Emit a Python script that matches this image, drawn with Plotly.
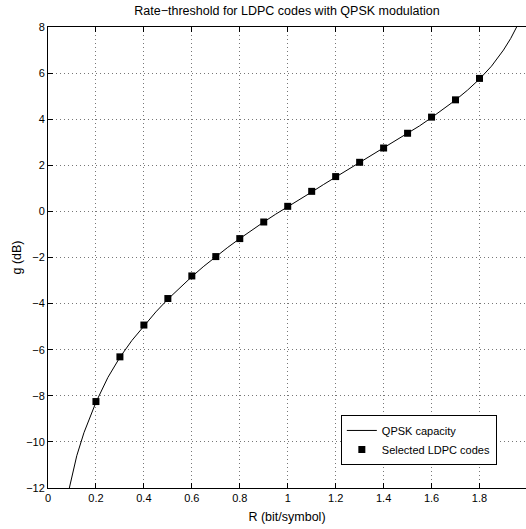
import plotly.graph_objects as go

# QPSK capacity curve
cap_R = [0.089, 0.10, 0.12, 0.15, 0.20, 0.25, 0.30, 0.35, 0.40, 0.45, 0.50, 0.55,
         0.60, 0.65, 0.70, 0.75, 0.80, 0.85, 0.90, 0.95, 1.00, 1.05, 1.10, 1.15,
         1.20, 1.25, 1.30, 1.35, 1.40, 1.45, 1.50, 1.55, 1.60, 1.65, 1.70, 1.75,
         1.80, 1.85, 1.90, 1.93, 1.955]
cap_g = [-12.0, -11.45, -10.6, -9.6, -8.28, -7.2, -6.33, -5.6, -4.96, -4.36, -3.81, -3.3,
         -2.83, -2.38, -1.96, -1.56, -1.18, -0.81, -0.46, -0.12, 0.19, 0.52, 0.84, 1.17,
         1.49, 1.81, 2.12, 2.43, 2.75, 3.06, 3.38, 3.71, 4.07, 4.44, 4.83, 5.26,
         5.74, 6.3, 7.0, 7.5, 8.0]

# Selected LDPC codes thresholds
ldpc_R = [0.2, 0.3, 0.4, 0.5, 0.6, 0.7, 0.8, 0.9, 1.0, 1.1, 1.2, 1.3, 1.4, 1.5, 1.6, 1.7, 1.8]
ldpc_g = [-8.25, -6.31, -4.93, -3.78, -2.80, -1.96, -1.18, -0.46, 0.22, 0.87, 1.51, 2.13,
          2.75, 3.39, 4.09, 4.84, 5.77]

x_ticks = [0, 0.2, 0.4, 0.6, 0.8, 1.0, 1.2, 1.4, 1.6, 1.8]
x_ticktext = ["0", "0.2", "0.4", "0.6", "0.8", "1", "1.2", "1.4", "1.6", "1.8"]
y_ticks = [-12, -10, -8, -6, -4, -2, 0, 2, 4, 6, 8]

FONT = "Liberation Sans, Arial, Helvetica, sans-serif"

fig = go.Figure()
fig.add_trace(go.Scatter(x=cap_R, y=cap_g, mode="lines", name="QPSK capacity",
                         line=dict(color="black", width=1)))
fig.add_trace(go.Scatter(x=ldpc_R, y=ldpc_g, mode="markers", name="Selected LDPC codes",
                         marker=dict(symbol="square", size=7, color="black")))

axis_common = dict(
    showline=True, linecolor="black", linewidth=1,
    ticks="inside", ticklen=5, tickcolor="black", tickwidth=1,
    showgrid=True, gridcolor="#777", griddash="1px,3px", gridwidth=1,
    zeroline=False, tickfont=dict(size=11, color="black", family=FONT),
)

fig.update_layout(
    width=526, height=529,
    margin=dict(l=48, r=0, t=27, b=41),
    paper_bgcolor="white", plot_bgcolor="white",
    font=dict(family=FONT, size=12, color="black"),
    title=dict(text="Rate\u2212threshold for LDPC codes with QPSK modulation",
               x=0.5, xref="paper", xanchor="center", y=0.988, yref="container",
               yanchor="top", font=dict(size=12.5, family=FONT, color="black")),
    xaxis=dict(range=[0, 1.994], tickvals=x_ticks, ticktext=x_ticktext, mirror="ticks",
               title=dict(text="R (bit/symbol)", standoff=9, font=dict(size=12.5)),
               **axis_common),
    yaxis=dict(range=[-12, 8], tickvals=y_ticks,
               title=dict(text="g (dB)", standoff=1, font=dict(size=12.5)),
               **axis_common),
    legend=dict(x=0.939, y=0.05, xanchor="right", yanchor="bottom",
                bgcolor="white", bordercolor="black", borderwidth=1,
                font=dict(size=11, family=FONT, color="black"),
                tracegroupgap=0, itemwidth=30),
    showlegend=True,
)

fig.write_html("out.html")
